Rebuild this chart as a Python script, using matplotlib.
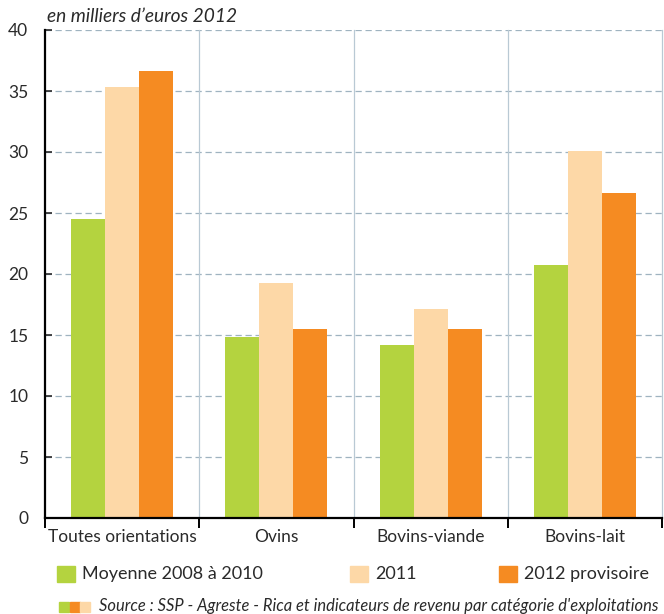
import matplotlib.pyplot as plt
import numpy as np

# --- data ---
categories = ["Toutes orientations", "Ovins", "Bovins-viande", "Bovins-lait"]
series_names = ["Moyenne 2008 à 2010", "2011", "2012 provisoire"]
moyenne_2008_2010 = [24.5, 14.8, 14.2, 20.7]
annee_2011 = [35.3, 19.3, 17.1, 30.1]
annee_2012 = [36.6, 15.5, 15.5, 26.6]
colors = ["#b4d33f", "#fdd8a7", "#f58b22"]

plt.rcParams['font.family'] = ['Lato', 'DejaVu Sans']
txt_color = "#2a2a2a"

fig = plt.figure(figsize=(6.64, 6.14), dpi=100)
ax = fig.add_axes([45 / 664, 96 / 614, 617 / 664, 488 / 614])

x = np.arange(len(categories))
w = 0.22
for i, (vals, c) in enumerate(zip([moyenne_2008_2010, annee_2011, annee_2012], colors)):
    ax.bar(x + (i - 1) * w, vals, width=w, color=c, zorder=3, label=series_names[i])

# --- axes styling ---
ax.set_xlim(-0.5, len(categories) - 0.5)
ax.set_ylim(0, 40)
ax.set_yticks(range(0, 41, 5))
for y in range(5, 41, 5):
    ax.axhline(y, color="#9fb3c0", linestyle=(0, (5, 3)), linewidth=0.9, zorder=1)
for b in x + 0.5:
    ax.axvline(b, color="#b9c9d4", linewidth=0.9, zorder=1, clip_on=False)

for s in ["top", "right"]:
    ax.spines[s].set_visible(False)
ax.spines["left"].set_linewidth(1.6)
ax.spines["bottom"].set_linewidth(1.6)
ax.spines["bottom"].set_zorder(4)
ax.tick_params(axis="y", direction="in", length=5, width=1.2, labelsize=12.5,
               pad=12, colors=txt_color)

ax.set_xticks(x)
ax.set_xticklabels(categories, fontsize=12.5, color=txt_color)
ax.tick_params(axis="x", length=0, pad=8)
ax.set_xticks(np.arange(-0.5, len(categories), 1.0), minor=True)
ax.tick_params(axis="x", which="minor", direction="out", length=7, width=1.4)

fig.text(47 / 664, 1 - 16 / 614, "en milliers d\u2019euros 2012", fontsize=13.8,
         style="italic", va="center", ha="left", color=txt_color)

# legend row, placed by hand
legend_x = [57, 350, 499]
for lx, c, name in zip(legend_x, colors, series_names):
    fig.patches.append(plt.Rectangle((lx / 664, 1 - 582 / 614), 18 / 664, 16 / 614,
                                     color=c, transform=fig.transFigure, figure=fig))
    fig.text((lx + 25) / 664, 1 - 574 / 614, name, fontsize=13, va="center",
             ha="left", color=txt_color)

# source line with small colour squares
for i, c in enumerate([colors[0], colors[2], colors[1]]):
    fig.patches.append(plt.Rectangle(((59 + i * 10.5) / 664, 1 - 612 / 614), 10 / 664, 10 / 614,
                                     color=c, transform=fig.transFigure, figure=fig))
fig.text(99 / 664, 1 - 606 / 614,
         "Source : SSP - Agreste - Rica et indicateurs de revenu par catégorie d'exploitations",
         fontsize=11.9, style="italic", va="center", ha="left", color=txt_color)

fig.savefig("out.png", dpi=100)
